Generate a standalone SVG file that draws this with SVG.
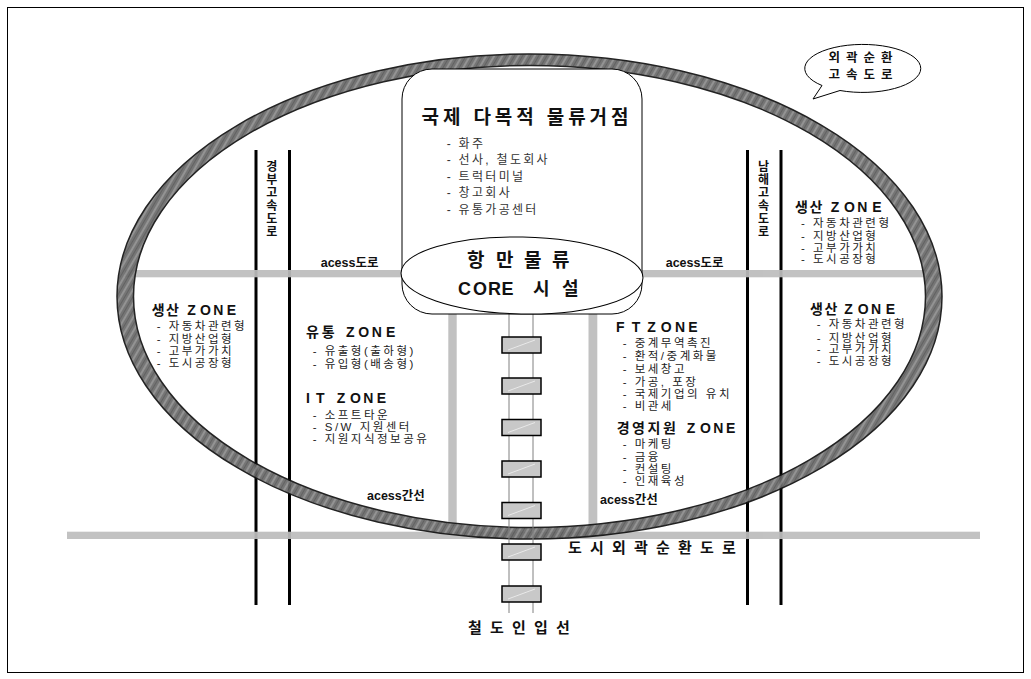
<svg xmlns="http://www.w3.org/2000/svg" width="1031" height="679" viewBox="0 0 1031 679">
<defs>
<style>
text{font-family:'Liberation Sans','Noto Sans CJK KR',sans-serif;}
.h{font-size:14px;font-weight:bold;fill:#111;}
.it{font-size:11.5px;letter-spacing:2.5px;fill:#222;}
.ci{font-size:12px;letter-spacing:2.3px;fill:#333;}
.lb{font-size:12.5px;font-weight:bold;fill:#111;}
.vt{font-family:'Noto Sans CJK KR',sans-serif;font-size:12px;font-weight:bold;fill:#111;text-anchor:middle;}
.big{font-size:15px;font-weight:bold;fill:#111;}
.road{fill:#bdbdbd;}
.hw{stroke:#000;stroke-width:3;}
.rail{stroke:#808080;stroke-width:1;}
.car{fill:#c8c8c8;stroke:#000;stroke-width:1.5;}
.carl{stroke:#f0f0f0;stroke-width:0.8;}
</style>
<pattern id="hatch" width="7" height="7" patternUnits="userSpaceOnUse" patternTransform="rotate(30)">
<rect width="7" height="7" fill="#6a6a6a"/>
<rect width="2" height="7" fill="#8a8a8a"/>
<rect x="4" width="1" height="7" fill="#555"/>
</pattern>
<g id="carT"><rect class="car" x="0" y="0" width="39" height="16"/><line class="carl" x1="6" y1="13" x2="33" y2="3"/></g>
</defs>
<rect x="7.5" y="7.5" width="1016" height="665" fill="#fff" stroke="#000" stroke-width="1"/>

<g id="connectors">
<g id="highways">
<line class="hw" x1="256" y1="150" x2="256" y2="605"/>
<line class="hw" x1="289.5" y1="150" x2="289.5" y2="605"/>
<line class="hw" x1="747.5" y1="150" x2="747.5" y2="605"/>
<line class="hw" x1="781" y1="150" x2="781" y2="605"/>
</g>
<g id="roads" opacity="0.93">
<rect class="road" x="125" y="270" width="810" height="7.3"/>
<rect class="road" x="448.3" y="314" width="8.4" height="212"/>
<rect class="road" x="588.5" y="314" width="8.8" height="212"/>
<rect class="road" x="67" y="531.7" width="913" height="7.3"/>
</g>
<path id="ring" d="M117,296.5 A412.5,242.5 0 1,0 942,296.5 A412.5,242.5 0 1,0 117,296.5 Z M133.5,296.5 A396,231 0 1,0 925.5,296.5 A396,231 0 1,0 133.5,296.5 Z" fill="url(#hatch)" fill-rule="evenodd" stroke="#111" stroke-width="1.5" opacity="0.92"/>
<g id="railway">
<line class="rail" x1="509" y1="314" x2="509" y2="613"/>
<line class="rail" x1="533" y1="314" x2="533" y2="613"/>
<use href="#carT" x="502" y="337"/>
<use href="#carT" x="502" y="378"/>
<use href="#carT" x="502" y="419.5"/>
<use href="#carT" x="502" y="461"/>
<use href="#carT" x="502" y="502.5"/>
<use href="#carT" x="502" y="544"/>
<use href="#carT" x="502" y="586"/>
</g>
</g>

<g id="core">
<rect x="402" y="69" width="240" height="245" rx="30" ry="30" fill="#fff" stroke="#000" stroke-width="1"/>
<text class="h" x="421.5" y="124" style="font-size:19px" textLength="207" lengthAdjust="spacing">국제 다목적 물류거점</text>
<text class="ci" x="446.7" y="148">- 화주</text>
<text class="ci" x="446.7" y="164">- 선사, 철도회사</text>
<text class="ci" x="446.7" y="180.5">- 트럭터미널</text>
<text class="ci" x="446.7" y="197">- 창고회사</text>
<text class="ci" x="446.7" y="213.5">- 유통가공센터</text>
<ellipse cx="522" cy="275.5" rx="121" ry="38.5" fill="#fff" stroke="#000" stroke-width="1" transform="rotate(1.2 522 275.5)"/>
<text class="h" x="467 496 524 552" y="267" style="font-size:19px">항만물류</text>
<text class="h" x="458 473 488 501.5 533 562" y="294.5" style="font-size:18px">CORE시설</text>
</g>

<g id="bubble">
<path d="M840,90.5 A58,24 0 1,0 822,85.5 L813,99 Z" fill="#fff" stroke="#000" stroke-width="1"/>
<text class="lb" x="863.5" y="62" text-anchor="middle" style="letter-spacing:6px">외곽순환</text>
<text class="lb" x="863.5" y="79" text-anchor="middle" style="letter-spacing:6px">고속도로</text>
</g>

<g id="label-gyeongbu">
<text class="vt" x="271.7 271.7 271.7 271.7 271.7 271.7" y="170.5 183.5 196.5 209.5 222.5 236">경부고속도로</text>
</g>
<g id="label-namhae">
<text class="vt" x="763.5 763.5 763.5 763.5 763.5 763.5" y="170.5 183.5 196.5 209.5 222.5 236">남해고속도로</text>
</g>
<g id="road-labels">
<text class="lb" x="320.7" y="267">acess도로</text>
<text class="lb" x="665.7" y="266.5">acess도로</text>
<text class="lb" x="367" y="499.5">acess간선</text>
<text class="lb" x="600" y="504">acess간선</text>
<text class="big" x="568 590 612 634 656 678 700 722" y="553">도시외곽순환도로</text>
<text class="big" x="468 490 512 534 556" y="633">철도인입선</text>
</g>

<g id="zone-prod-left">
<text class="h" x="151.7 166 187.3 200 213.3 226.7" y="315">생산ZONE</text>
<text class="it" x="156.7" y="330">- 자동차관련형</text>
<text class="it" x="156.7" y="343">- 지방산업형</text>
<text class="it" x="156.7" y="355">- 고부가가치</text>
<text class="it" x="156.7" y="366.5">- 도시공장형</text>
</g>

<g id="zone-prod-right-top">
<text class="h" x="795 809.5 830.7 844 857.3 872.3" y="211.7">생산ZONE</text>
<text class="it" x="801" y="227">- 자동차관련형</text>
<text class="it" x="801" y="240">- 지방산업형</text>
<text class="it" x="801" y="251.7">- 고부가가치</text>
<text class="it" x="801" y="263">- 도시공장형</text>
</g>

<g id="zone-prod-right-bottom">
<text class="h" x="810 824.5 844.3 857.7 871 885.7" y="314">생산ZONE</text>
<text class="it" x="816.7" y="328">- 자동차관련형</text>
<text class="it" x="816.7" y="341.7">- 지방산업형</text>
<text class="it" x="816.7" y="353">- 고부가가치</text>
<text class="it" x="816.7" y="364.5">- 도시공장형</text>
</g>

<g id="zone-dist">
<text class="h" x="306 321.7 346 358.3 371.7 386" y="337.3">유통ZONE</text>
<text class="it" x="312.7" y="355">- 유출형(출하형)</text>
<text class="it" x="312.7" y="367.5">- 유입형(배송형)</text>
</g>

<g id="zone-it">
<text class="h" x="306 316 336.7 350 363.3 376.7" y="403">ITZONE</text>
<text class="it" x="312.7" y="419">- 소프트타운</text>
<text class="it" x="312.7" y="431">- S/W 지원센터</text>
<text class="it" x="312.7" y="442.5">- 지원지식정보공유</text>
</g>

<g id="zone-ft">
<text class="h" x="616 631.7 647.3 660.7 675 688.3" y="331.7">FTZONE</text>
<text class="it" x="622.7" y="346.7">- 중계무역촉진</text>
<text class="it" x="622.7" y="360">- 환적/중계화물</text>
<text class="it" x="622.7" y="372.7">- 보세창고</text>
<text class="it" x="622.7" y="386">- 가공, 포장</text>
<text class="it" x="622.7" y="397.7">- 국제기업의 유치</text>
<text class="it" x="622.7" y="410">- 비관세</text>
</g>

<g id="zone-mgmt">
<text class="h" x="616.7 632 647.5 663 686.7 700 713.3 726" y="433">경영지원ZONE</text>
<text class="it" x="622.7" y="448">- 마케팅</text>
<text class="it" x="622.7" y="460.7">- 금융</text>
<text class="it" x="622.7" y="472.5">- 컨설팅</text>
<text class="it" x="622.7" y="484.5">- 인재육성</text>
</g>
</svg>
